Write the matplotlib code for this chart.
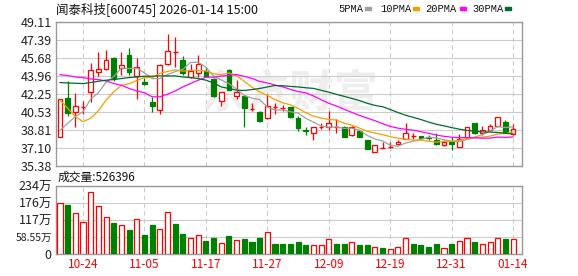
import matplotlib.pyplot as plt
import matplotlib.patches as mpatches
import numpy as np

plt.rcParams['font.family'] = ['Noto Sans CJK SC', 'DejaVu Sans']

# ---- data ----
dates = ['10-21', '10-22', '10-23', '10-24', '10-27', '10-28', '10-29', '10-30', '10-31',
         '11-03', '11-04', '11-05', '11-06', '11-07', '11-10', '11-11', '11-12', '11-13', '11-14',
         '11-17', '11-18', '11-19', '11-20', '11-21', '11-24', '11-25', '11-26', '11-27', '11-28',
         '12-01', '12-02', '12-03', '12-04', '12-05', '12-08', '12-09', '12-10', '12-11', '12-12',
         '12-15', '12-16', '12-17', '12-18', '12-19', '12-22', '12-23', '12-24', '12-25', '12-26',
         '12-29', '12-30', '12-31', '01-05', '01-06', '01-07', '01-08', '01-09', '01-12', '01-13',
         '01-14']
label_dates = ['10-24', '11-05', '11-17', '11-27', '12-09', '12-19', '12-31', '01-14']

opens = [38.13, 41.82, 40.56, 41.00, 42.39, 44.35, 44.66, 45.64, 44.72, 45.92,
         44.00, 43.37, 41.47, 40.69, 45.13, 46.24, 45.45, 43.91, 44.28, 44.44,
         43.72, 41.54, 44.57, 42.10, 42.01, 40.81, 40.53, 39.93, 41.00, 40.94,
         40.97, 39.96, 38.79, 38.48, 39.14, 39.14, 39.08, 39.08, 38.38, 38.73,
         37.88, 36.71, 37.10, 37.20, 37.44, 37.94, 38.22, 38.22, 38.13, 37.88,
         37.37, 37.63, 37.15, 38.07, 39.46, 38.51, 38.86, 39.23, 39.58, 38.41]
highs = [41.73, 43.53, 42.33, 41.60, 45.17, 46.21, 46.40, 45.77, 46.21, 46.62,
         45.64, 43.81, 41.98, 45.10, 47.97, 47.72, 45.83, 45.10, 45.92, 44.82,
         43.75, 42.45, 44.60, 43.56, 42.04, 41.35, 40.65, 42.29, 41.35, 41.19,
         41.00, 40.15, 39.14, 39.08, 39.46, 40.65, 39.87, 39.20, 39.20, 38.76,
         37.90, 37.40, 37.66, 37.63, 37.88, 39.46, 38.51, 38.22, 38.35, 38.51,
         37.88, 38.13, 38.44, 39.08, 39.52, 39.20, 39.39, 40.02, 39.77, 39.39]
lows = [38.13, 40.15, 39.08, 40.34, 41.51, 43.94, 44.50, 43.49, 44.09, 44.03,
        41.76, 43.15, 40.56, 40.37, 45.01, 44.82, 44.03, 43.81, 43.85, 43.94,
        41.98, 41.13, 42.61, 41.79, 39.14, 40.65, 39.61, 39.87, 40.31, 40.65,
        39.93, 38.73, 38.35, 37.82, 38.92, 38.83, 38.48, 38.10, 38.26, 38.10,
        36.97, 36.71, 37.06, 37.10, 37.41, 37.94, 37.97, 37.94, 37.82, 37.34,
        37.25, 36.93, 37.15, 38.01, 38.41, 38.35, 38.73, 39.20, 38.51, 38.32]
closes = [41.73, 40.47, 41.06, 41.03, 44.57, 44.66, 45.51, 43.81, 45.04, 44.35,
          44.85, 43.21, 41.10, 45.04, 46.33, 46.24, 44.28, 44.41, 45.07, 43.97,
          42.04, 42.42, 42.67, 42.45, 40.91, 40.81, 39.71, 41.13, 41.00, 40.94,
          40.02, 39.01, 38.73, 39.08, 39.14, 39.46, 39.08, 38.10, 39.14, 38.19,
          36.99, 37.37, 37.10, 37.20, 37.66, 38.51, 38.22, 38.07, 38.07, 37.44,
          37.66, 37.44, 37.94, 39.08, 38.57, 38.83, 39.20, 40.02, 38.64, 38.92]

ma5 = [38.76, 39.46, 40.09, 40.56, 41.77, 42.36, 43.37, 43.92, 44.72, 44.67,
       44.71, 44.25, 43.71, 43.71, 44.11, 44.38, 44.60, 45.26, 45.27, 44.79,
       43.95, 43.58, 43.23, 42.71, 42.10, 41.85, 41.71, 41.00, 40.71, 40.72,
       40.56, 40.42, 39.94, 39.56, 39.20, 39.08, 39.10, 38.97, 38.98, 38.79,
       38.30, 37.96, 37.76, 37.37, 37.26, 37.57, 37.74, 37.93, 38.11, 38.06,
       37.89, 37.74, 37.71, 37.91, 38.14, 38.37, 38.72, 39.14, 39.05, 39.12]
ma10 = [41.66, 40.88, 40.09, 39.61, 39.93, 40.65, 41.66, 42.45, 43.08, 43.22,
        43.54, 43.81, 43.81, 44.21, 44.39, 44.55, 44.43, 44.49, 44.49, 44.45,
        44.17, 44.09, 44.25, 43.99, 43.45, 42.90, 42.45, 42.12, 41.71, 41.41,
        41.21, 40.87, 40.47, 40.13, 39.96, 39.82, 39.76, 39.46, 39.27, 39.00,
        38.69, 38.53, 38.37, 38.18, 38.03, 37.93, 37.85, 37.85, 37.74, 37.66,
        37.73, 37.74, 37.82, 38.01, 38.10, 38.13, 38.23, 38.43, 38.48, 38.63]
ma20 = [44.09, 44.00, 43.87, 43.81, 43.68, 43.62, 43.49, 43.24, 43.08, 42.77,
        42.54, 42.36, 41.98, 41.98, 42.23, 42.54, 42.92, 43.24, 43.56, 43.84,
        43.85, 43.95, 44.03, 44.10, 43.92, 43.73, 43.44, 43.30, 43.10, 42.93,
        42.69, 42.48, 42.36, 42.06, 41.70, 41.36, 41.10, 40.79, 40.49, 40.20,
        39.95, 39.70, 39.42, 39.16, 38.99, 38.88, 38.80, 38.65, 38.50, 38.33,
        38.21, 38.13, 38.09, 38.09, 38.06, 38.03, 38.04, 38.14, 38.11, 38.15]
ma30 = [43.34, 43.30, 43.27, 43.24, 43.34, 43.46, 43.56, 43.62, 43.72, 43.81,
        43.87, 43.94, 43.94, 43.97, 43.97, 43.97, 43.87, 43.81, 43.72, 43.56,
        43.30, 42.92, 42.77, 42.61, 42.58, 42.67, 42.77, 42.92, 43.05, 43.03,
        42.97, 42.92, 42.84, 42.78, 42.60, 42.42, 42.21, 42.02, 41.82, 41.62,
        41.36, 41.16, 41.03, 40.77, 40.48, 40.22, 40.02, 39.81, 39.57, 39.36,
        39.21, 39.04, 38.89, 38.77, 38.70, 38.63, 38.61, 38.58, 38.50, 38.43]

# volume in 万 shares
volumes = [174, 168, 140, 111, 215, 164, 126, 107, 99, 83,
           119, 66, 100, 85, 143, 103, 69, 55, 65, 45,
           56, 38, 61, 49, 52, 42, 56, 75, 35, 33,
           36, 43, 30, 32, 32, 52, 33, 36, 43, 30,
           32, 25, 19, 18, 25, 56, 33, 30, 25, 36,
           22, 33, 45, 56, 40, 36, 40, 56, 50, 52.64]
vol_up = [1, 0, 1, 1, 1, 1, 1, 0, 1, 0,
          1, 0, 0, 1, 1, 0, 0, 1, 1, 0,
          0, 1, 0, 1, 0, 0, 0, 1, 0, 0,
          0, 0, 0, 1, 1, 1, 0, 0, 1, 0,
          0, 1, 0, 1, 1, 1, 0, 0, 0, 0,
          1, 0, 1, 1, 0, 1, 1, 1, 0, 1]

price_ticks = [35.38, 37.10, 38.81, 40.53, 42.25, 43.96, 45.68, 47.39, 49.11]
vol_ticks = [0, 58.55, 117.1, 175.65, 234.2]
vol_tick_labels = ['0', '58.55万', '117万', '176万', '234万']

RED = '#ff0000'
GREEN = '#008000'
FRAME = '#999999'
GRID = '#cccccc'

x = np.arange(len(dates))
label_idx = [dates.index(d) for d in label_dates]

fig = plt.figure(figsize=(5.78, 2.76), dpi=100)
ax = fig.add_axes([56 / 578, 1 - 166 / 276, 466 / 578, 144 / 276])
axv = fig.add_axes([56 / 578, 1 - 254 / 276, 466 / 578, 68 / 276])

for a in (ax, axv):
    a.set_xlim(-0.52, 60.16)
    for s in a.spines.values():
        s.set_color(FRAME)
        s.set_linewidth(1.0)
    a.tick_params(length=0, labelsize=9, pad=3)
    a.set_axisbelow(True)
    for i in label_idx:
        a.axvline(i, color=GRID, lw=0.8, ls=(0, (4, 3)), zorder=0)
    a.set_xticks(label_idx)

# watermark
ax.text(0.5, 0.5, '东方财富', transform=ax.transAxes, fontsize=32,
        color='#eeeeee', ha='center', va='center', zorder=0, fontweight='bold')

# price panel
ax.set_ylim(35.38, 49.11)
ax.set_yticks(price_ticks)
ax.set_yticklabels(['%.2f' % t for t in price_ticks], color='#222222')
ax.yaxis.grid(True, color=GRID, lw=0.8)
ax.set_xticklabels([])

bw = 0.62
for i in x:
    o, h, l, c = opens[i], highs[i], lows[i], closes[i]
    up = c >= o
    col = RED if up else GREEN
    ax.vlines(i, l, h, color=col, lw=0.9, zorder=2)
    body = abs(c - o)
    if body < 0.06:
        ax.hlines(c, i - bw / 2, i + bw / 2, color=col, lw=1.0, zorder=3)
    else:
        ax.bar(i, body, bottom=min(o, c), width=bw,
               facecolor='white' if up else GREEN, edgecolor=col, lw=0.9, zorder=3)

ax.plot(x, ma5, color='#a0a0a0', lw=0.9, zorder=4)
ax.plot(x, ma10, color='#f5a000', lw=0.9, zorder=4)
ax.plot(x, ma20, color='#ff00ff', lw=0.9, zorder=4)
ax.plot(x, ma30, color='#006b2e', lw=0.9, zorder=4)

# volume panel
axv.set_ylim(0, 234.2)
axv.set_yticks(vol_ticks)
axv.set_yticklabels(vol_tick_labels, color='#222222')
axv.get_yticklabels()[1].set_fontsize(7.5)
axv.yaxis.grid(True, color=GRID, lw=0.8)
axv.set_xticklabels(label_dates, color=RED, fontsize=8.5)
for i in x:
    if vol_up[i]:
        axv.bar(i, volumes[i], width=0.66, facecolor='white', edgecolor=RED, lw=0.9, zorder=3)
    else:
        axv.bar(i, volumes[i], width=0.66, facecolor=GREEN, edgecolor=GREEN, lw=0.9, zorder=3)

# texts
fig.text(56 / 578, 1 - 9 / 276, '闻泰科技[600745] 2026-01-14 15:00', fontsize=9,
         ha='left', va='center', color='#111111')
fig.text(58 / 578, 1 - 177 / 276, '成交量:526396', fontsize=8.5,
         ha='left', va='center', color='#111111')

legend = [('5PMA', 338, 365, '#a0a0a0'), ('10PMA', 380, 413, '#f5a000'),
          ('20PMA', 425, 460, '#ff00ff'), ('30PMA', 472, 505, '#006b2e')]
for name, tx, mx, col in legend:
    fig.text(tx / 578, 1 - 9 / 276, name, fontsize=7.5, ha='left', va='center',
             color='#111111', family='Liberation Mono')
    fig.patches.append(mpatches.Rectangle((mx / 578, 1 - 10 / 276), 6 / 578, 3 / 276,
                                          transform=fig.transFigure, color=col))

fig.savefig('out.png', dpi=100)
